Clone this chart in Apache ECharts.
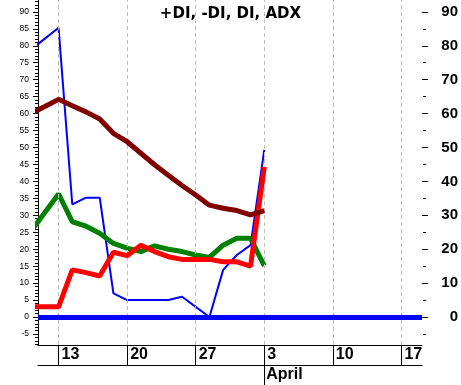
<!DOCTYPE html>
<html>
<head>
<meta charset="utf-8">
<style>html,body{margin:0;padding:0;background:#fff;}#c{width:461px;height:385px;}</style>
<script src="https://cdn.jsdelivr.net/npm/echarts@6.0.0/dist/echarts.min.js"></script>
</head>
<body>
<div id="c"></div>
<script>
// trading-day index (0 = Mar 13)
const dayIndex = [-2, -1, 0, 1, 2, 3, 4, 5, 6, 7, 8, 9, 10, 11, 12, 13, 14, 15];
const plusDI  = [78.9, 82.1, 85.3, 33.2, 35.2, 35.2, 7.0, 5.0, 5.0, 5.0, 5.0, 6.0, 3.0, 0.0, 13.9, 18.3, 21.2, 49.3];
const diLine  = [25.4, 30.8, 36.3, 28.1, 26.8, 24.7, 21.7, 20.3, 19.3, 21.0, 20.0, 19.3, 18.3, 17.6, 21.2, 23.2, 23.2, 15.1];
const minusDI = [3.0, 3.0, 3.0, 13.9, 13.1, 12.1, 19.1, 18.1, 21.2, 19.3, 17.8, 17.0, 17.0, 17.0, 16.3, 16.3, 15.0, 44.3];
const adx     = [60.1, 62.1, 64.2, 62.3, 60.5, 58.4, 54.2, 51.7, 48.3, 44.9, 41.8, 38.8, 36.0, 33.0, 32.1, 31.4, 30.1, 31.4];
const zeroLevel = 0;

const weekTicks = [0, 5, 10, 15, 20, 25];
const weekLabels = ['13', '20', '27', '3', '10', '17'];
const monthTicks = [15];
const monthLabels = ['April'];
const leftTicks = [-5, 0, 5, 10, 15, 20, 25, 30, 35, 40, 45, 50, 55, 60, 65, 70, 75, 80, 85, 90];
const leftMinor = [-8,-7,-6,-4,-3,-2,-1,1,2,3,4,6,7,8,9,11,12,13,14,16,17,18,19,21,22,23,24,26,27,28,29,31,32,33,34,36,37,38,39,41,42,43,44,46,47,48,49,51,52,53,54,56,57,58,59,61,62,63,64,66,67,68,69,71,72,73,74,76,77,78,79,81,82,83,84,86,87,88,89,91,92,93];
const rightTicks = [0, 10, 20, 30, 40, 50, 60, 70, 80, 90];
const rightMinor = [-5, 5, 15, 25, 35, 45, 55, 65, 75, 85];

const pairs = arr => dayIndex.map((d, i) => [d, arr[i]]);
const Y_MIN = -8.25, Y_MAX = 93.5, X_MIN = -1.5, X_MAX = 26.5;

const chart = echarts.init(document.getElementById('c'), null, {renderer: 'canvas'});
const blk = '#000';
function yAx(grid, pos, ticks, len, labelOpts, showLine) {
  return {
    gridIndex: grid,
    type: 'value', position: pos, min: Y_MIN, max: Y_MAX,
    axisLine: {show: !!showLine, onZero: false, lineStyle: {color: blk, width: 1}},
    axisTick: {show: true, inside: false, length: len, customValues: ticks, lineStyle: {color: blk, width: 1}},
    axisLabel: labelOpts ? Object.assign({show: true, customValues: ticks, color: blk}, labelOpts) : {show: false},
    splitLine: {show: false}
  };
}
const gridRect = {left: 38, right: 38, top: 0, bottom: 40, containLabel: false};
chart.setOption({
  animation: false,
  textStyle: {fontFamily: 'Liberation Sans'},
  title: {
    text: '+DI, -DI, DI, ADX', left: 'center', top: 2,
    textStyle: {fontFamily: 'DejaVu Sans', fontWeight: 'bold', fontSize: 15, color: blk}
  },
  grid: [Object.assign({}, gridRect), Object.assign({}, gridRect)],
  xAxis: [
    {
      gridIndex: 0,
      type: 'value', position: 'bottom', min: X_MIN, max: X_MAX,
      axisLine: {show: true, onZero: false, lineStyle: {color: blk, width: 1}},
      axisTick: {show: true, inside: false, length: 20, customValues: weekTicks, lineStyle: {color: blk, width: 1}},
      axisLabel: {
        show: true, customValues: weekTicks, margin: 2, align: 'left', padding: [0, 0, 0, 3],
        color: blk, fontWeight: 'bold', fontSize: 16, fontFamily: 'Liberation Sans',
        formatter: v => weekLabels[weekTicks.indexOf(v)] || ''
      },
      splitLine: {show: false}
    },
    {
      gridIndex: 0,
      type: 'value', position: 'bottom', offset: 20, min: X_MIN, max: X_MAX,
      axisLine: {show: true, onZero: false, lineStyle: {color: blk, width: 1}},
      axisTick: {show: true, inside: false, length: 20, customValues: monthTicks, lineStyle: {color: blk, width: 1}},
      axisLabel: {
        show: true, customValues: monthTicks, margin: 2, align: 'left', padding: [0, 0, 0, 2],
        color: blk, fontWeight: 'bold', fontSize: 16, fontFamily: 'Liberation Sans',
        formatter: v => monthLabels[monthTicks.indexOf(v)] || ''
      },
      splitLine: {show: false}
    },
    {
      gridIndex: 1, type: 'value', min: X_MIN, max: X_MAX, show: false
    }
  ],
  yAxis: [
    yAx(0, 'left', leftTicks, 5, {fontSize: 8.5, margin: 9}, true),
    yAx(0, 'right', rightTicks, 6, {fontSize: 15, fontWeight: 'bold', margin: 36, align: 'right'}, false),
    yAx(1, 'left', leftMinor, 3, null, false),
    yAx(1, 'right', rightMinor, 3, null, false)
  ],
  series: [
    {
      name: 'grid', type: 'line', data: [], z: 1, silent: true,
      markLine: {
        silent: true, symbol: 'none', label: {show: false}, animation: false,
        lineStyle: {color: '#bdbdbd', width: 1, type: [4, 3]},
        data: weekTicks.map(v => ({xAxis: v}))
      }
    },
    {
      name: 'zero', type: 'line', data: [], z: 2, silent: true,
      markLine: {
        silent: true, symbol: 'none', label: {show: false}, animation: false,
        lineStyle: {color: '#0000ff', width: 5, type: 'solid'},
        data: [{yAxis: zeroLevel}]
      }
    },
    {name: '+DI', type: 'line', data: pairs(plusDI), z: 3, symbol: 'none', lineStyle: {color: '#0000ff', width: 2}},
    {name: 'DI', type: 'line', data: pairs(diLine), z: 4, symbol: 'none', lineStyle: {color: '#008000', width: 5}},
    {name: '-DI', type: 'line', data: pairs(minusDI), z: 5, symbol: 'none', lineStyle: {color: '#ff0000', width: 5}},
    {name: 'ADX', type: 'line', data: pairs(adx), z: 6, symbol: 'none', lineStyle: {color: '#800000', width: 5}}
  ]
});
</script>
</body>
</html>
